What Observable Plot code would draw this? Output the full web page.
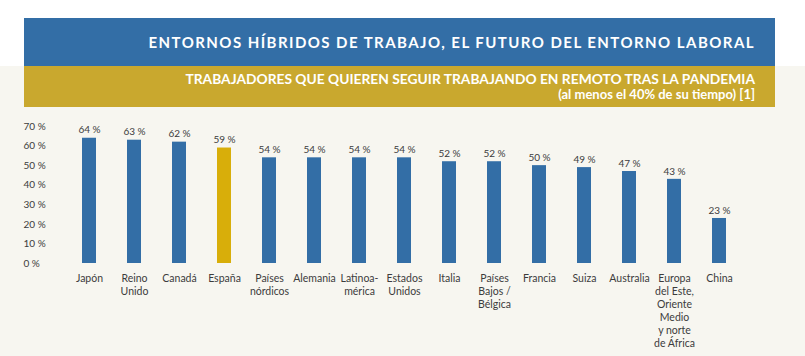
<!DOCTYPE html>
<html>
<head>
<meta charset="utf-8">
<script src="https://cdn.jsdelivr.net/npm/d3@7"></script>
<script src="https://cdn.jsdelivr.net/npm/@observablehq/plot@0.6"></script>
<style>
  html, body { margin: 0; padding: 0; background: #f7f6f0; width: 805px; height: 356px; overflow: hidden; font-family: Lato, "Open Sans", sans-serif; }
  #top { background: #ffffff; height: 66px; position: relative; }
  #title { position: absolute; left: 24px; top: 18px; width: 751px; height: 48px; background: #336ea6; box-sizing: border-box; padding-right: 20px; text-align: right; color: #fff; font-weight: 700; font-size: 15px; letter-spacing: 1.45px; line-height: 48px; white-space: nowrap; }
  #subtitle { margin-left: 24px; width: 751px; height: 41px; background: #c9a82e; box-sizing: border-box; padding-right: 20px; padding-top: 5px; text-align: right; color: #fff; font-weight: 700; font-size: 13.8px; line-height: 15px; white-space: nowrap; }
  #subtitle .l2 { font-size: 13px; }
  #chart svg { display: block; }
</style>
</head>
<body>
<div id="top"><div id="title">ENTORNOS HÍBRIDOS DE TRABAJO, EL FUTURO DEL ENTORNO LABORAL</div></div>
<div id="subtitle">TRABAJADORES QUE QUIEREN SEGUIR TRABAJANDO EN REMOTO TRAS LA PANDEMIA<br><span class="l2">(al menos el 40% de su tiempo) [1]</span></div>
<div id="chart"></div>
<script>
const categories = ["Japón", "Reino\nUnido", "Canadá", "España", "Países\nnórdicos", "Alemania", "Latinoa-\nmérica", "Estados\nUnidos", "Italia", "Países\nBajos /\nBélgica", "Francia", "Suiza", "Australia", "Europa\ndel Este,\nOriente\nMedio\ny norte\nde África", "China"];
const values = [64, 63, 62, 59, 54, 54, 54, 54, 52, 52, 50, 49, 47, 43, 23];
const highlight = "España";
const yTicks = [0, 10, 20, 30, 40, 50, 60, 70];

const data = categories.map((c, i) => ({cat: c, value: values[i], hl: c === highlight}));

const chart = Plot.plot({
  width: 805,
  height: 249,
  marginTop: 19,
  marginBottom: 93,
  marginLeft: 49,
  marginRight: 46,
  style: {background: "transparent", fontFamily: "Lato, 'Open Sans', sans-serif", color: "#3c3c3c"},
  x: {domain: categories, padding: 0.68, axis: null},
  y: {domain: [0, 70], axis: null},
  marks: [
    Plot.axisY({ticks: yTicks, label: null, tickSize: 0, tickPadding: 0, textAnchor: "start", dx: -26, tickFormat: d => d + " %", fontSize: 10, fill: "#3c3c3c"}),
    Plot.barY(data, {x: "cat", y: "value", fill: d => d.hl ? "#d8ae0a" : "#336ea6"}),
    Plot.text(data, {x: "cat", y: "value", text: d => d.value + " %", dy: -8, fontSize: 10, fill: "#3c3c3c"}),
    Plot.text(data, {x: "cat", text: "cat", frameAnchor: "bottom", lineAnchor: "top", dy: 9, lineHeight: 1.25, fontSize: 10.5, fill: "#3c3c3c"})
  ]
});
document.getElementById("chart").appendChild(chart);
</script>
</body>
</html>
